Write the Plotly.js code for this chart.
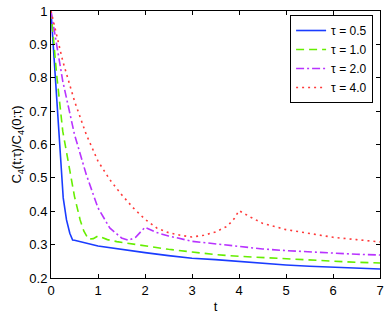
<!DOCTYPE html>
<html>
<head>
<meta charset="utf-8">
<script src="https://cdn.plot.ly/plotly-3.0.1.min.js"></script>
<style>html,body{margin:0;padding:0;background:#fff;}#chart{width:388px;height:315px;}</style>
</head>
<body>
<div id="chart"></div>
<script>
// tau = 0.5
var t05 = [0, 0.1, 0.2, 0.26, 0.33, 0.4, 0.46, 0.5, 1, 1.5, 2, 2.5, 3, 3.5, 4, 4.5, 5, 5.5, 6, 6.5, 7];
var c05 = [1, 0.79, 0.57, 0.44, 0.374, 0.334, 0.314, 0.313, 0.296, 0.285, 0.276, 0.267, 0.259, 0.255, 0.249, 0.243, 0.239, 0.235, 0.232, 0.229, 0.227];
// tau = 1.0
var t10 = [0, 0.12, 0.25, 0.37, 0.5, 0.62, 0.7, 0.8, 0.9, 1.0, 1.2, 1.4, 2, 2.5, 3, 3.5, 4, 4.5, 5, 5.5, 6, 6.5, 7];
var c10 = [1, 0.81, 0.64, 0.544, 0.444, 0.374, 0.34, 0.316, 0.318, 0.326, 0.315, 0.309, 0.296, 0.286, 0.278, 0.27, 0.265, 0.261, 0.257, 0.253, 0.249, 0.247, 0.245];
// tau = 2.0
var t20 = [0, 0.25, 0.5, 0.75, 1.0, 1.25, 1.5, 1.65, 1.8, 2.0, 2.25, 2.5, 3, 3.5, 4, 4.5, 5, 5.5, 6, 6.5, 7];
var c20 = [1, 0.79, 0.63, 0.51, 0.41, 0.35, 0.32, 0.313, 0.322, 0.352, 0.336, 0.326, 0.31, 0.302, 0.295, 0.287, 0.282, 0.278, 0.274, 0.271, 0.269];
// tau = 4.0
var t40 = [0, 0.25, 0.5, 0.75, 1.0, 1.25, 1.5, 1.75, 2, 2.25, 2.5, 2.75, 3, 3.25, 3.5, 3.75, 3.9, 4, 4.25, 4.5, 5, 5.5, 6, 6.5, 7];
var c40 = [1, 0.85, 0.73, 0.63, 0.55, 0.495, 0.45, 0.41, 0.376, 0.35, 0.336, 0.328, 0.323, 0.328, 0.338, 0.355, 0.378, 0.402, 0.382, 0.364, 0.345, 0.333, 0.322, 0.315, 0.308];

var names = ['\u03c4 = 0.5', '\u03c4 = 1.0', '\u03c4 = 2.0', '\u03c4 = 4.0'];

var traces = [
  {x: t05, y: c05, name: names[0], mode: 'lines', line: {color: '#1a3cff', width: 1.6, dash: 'solid'}},
  {x: t10, y: c10, name: names[1], mode: 'lines', line: {color: '#66ee00', width: 1.6, dash: '8px,5px'}},
  {x: t20, y: c20, name: names[2], mode: 'lines', line: {color: '#b833ff', width: 1.6, dash: '8px,3px,2px,3px'}},
  {x: t40, y: c40, name: names[3], mode: 'lines', line: {color: '#ff3b3b', width: 1.6, dash: '2px,4px'}}
];

var font = {family: 'Liberation Sans, Arial, Helvetica, sans-serif', size: 13, color: '#000'};

var layout = {
  width: 388, height: 315,
  margin: {l: 51, r: 8, t: 11, b: 37},
  paper_bgcolor: '#fff', plot_bgcolor: '#fff',
  font: font,
  showlegend: true,
  legend: {
    x: 0.979, y: 0.985, xanchor: 'right', yanchor: 'top',
    bordercolor: '#000', borderwidth: 1, bgcolor: '#fff',
    font: {family: font.family, size: 12, color: '#000'},
    tracegroupgap: 0, itemwidth: 30
  },
  xaxis: {
    range: [0, 7], tickmode: 'linear', tick0: 0, dtick: 1,
    ticks: 'inside', ticklen: 4, tickcolor: '#000', mirror: 'allticks',
    showline: true, linecolor: '#000', linewidth: 1,
    showgrid: false, zeroline: false,
    tickfont: {family: font.family, size: 13, color: '#000'},
    title: {text: 't', font: font, standoff: 5}
  },
  yaxis: {
    range: [0.2, 1], tickmode: 'linear', tick0: 0.2, dtick: 0.1,
    ticks: 'inside', ticklen: 4, tickcolor: '#000', mirror: 'allticks',
    showline: true, linecolor: '#000', linewidth: 1,
    showgrid: false, zeroline: false,
    tickfont: {family: font.family, size: 13, color: '#000'},
    title: {text: 'C<sub>4</sub>(t;\u03c4)/C<sub>4</sub>(0;\u03c4)', font: font, standoff: 4}
  }
};

Plotly.newPlot('chart', traces, layout, {displayModeBar: false, staticPlot: true});
</script>
</body>
</html>
